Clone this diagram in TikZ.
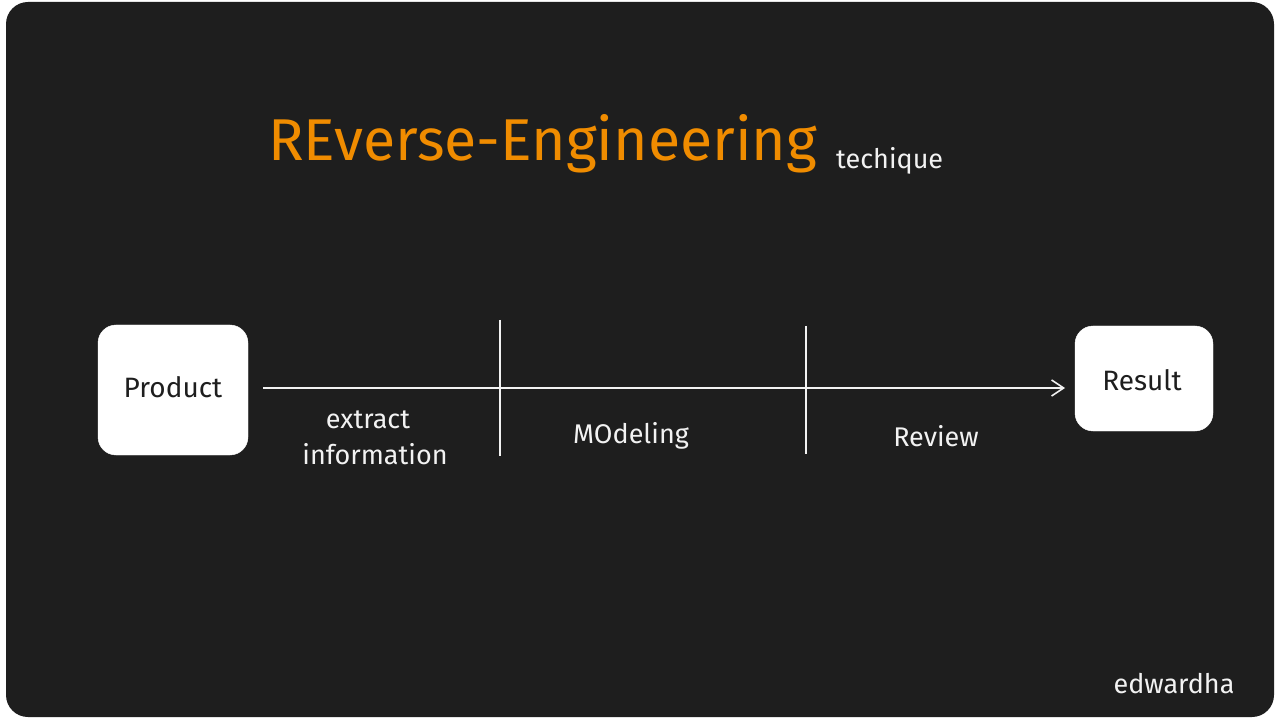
\documentclass[tikz,border=0pt]{standalone}
\usepackage{fontspec}
\setmainfont{Fira Sans}
\usetikzlibrary{arrows.meta}
\definecolor{bg}{HTML}{1E1E1E}
\definecolor{orng}{HTML}{F08C00}
\definecolor{ink}{HTML}{F2F2F2}
\tikzset{
  box/.style={fill=white, draw=white, rounded corners=18pt, inner sep=0pt},
  boxtext/.style={text=bg, font=\fontsize{28}{32}\selectfont},
  label/.style={text=ink, font=\fontsize{27}{31}\selectfont, inner sep=0pt},
  divider/.style={draw=ink, line width=1.6pt},
  flow/.style={draw=ink, line width=1.6pt, -{Straight Barb[length=12pt,width=16pt,line width=1.6pt]}}
}
\begin{document}
\begin{tikzpicture}[x=1pt,y=-1pt]
\useasboundingbox (0,0) rectangle (1280,719);
\fill[bg, rounded corners=22pt] (6,2) rectangle (1274,717);
% title
\node[text=orng, font=\fontsize{59}{66}\selectfont, anchor=west, inner sep=0pt] (title) at (268,144) {REverse-Engineering};
\node[label, anchor=west] (sub) at (836,161) {techique};
% boxes
\node[box, minimum width=150pt, minimum height=130pt] (product) at (173,390) {};
\node[boxtext] (producttext) at (173,387) {Product};
\node[box, minimum width=138pt, minimum height=105pt] (result) at (1144,378.5) {};
\node[boxtext] (resulttext) at (1142,380) {Result};
% dividers
\coordinate (d1t) at (500,320);
\coordinate (d1b) at (500,456);
\coordinate (d2t) at (806,326);
\coordinate (d2b) at (806,454);
\draw[divider] (d1t) -- (d1b);
\draw[divider] (d2t) -- (d2b);
% arrow
\coordinate (astart) at (263,388);
\coordinate (aend) at (1065,388);
\draw[flow] (astart) -- (aend);
% labels
\node[label] (extract) at (368,420) {extract};
\node[label] (info) at (375,454) {information};
\node[label] (model) at (631,436) {MOdeling};
\node[label] (review) at (936,436) {Review};
\node[label] (sign) at (1174,684) {edwardha};
\end{tikzpicture}
\end{document}
